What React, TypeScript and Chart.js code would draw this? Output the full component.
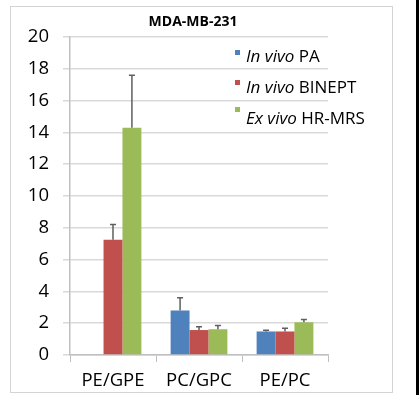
import React, { useEffect, useRef } from "react";
import { Chart, registerables } from "chart.js";

Chart.register(...registerables);

const categories = ["PE/GPE", "PC/GPC", "PE/PC"];
const inVivoPA = [0, 2.8, 1.48];
const inVivoPAErr = [0, 0.8, 0.08];
const inVivoBINEPT = [7.25, 1.57, 1.48];
const inVivoBINEPTErr = [0.95, 0.2, 0.2];
const exVivoHRMRS = [14.3, 1.62, 2.06];
const exVivoHRMRSErr = [3.3, 0.24, 0.17];
const legendItalic = ["In vivo", "In vivo", "Ex vivo"];
const legendNormal = ["PA", "BINEPT", "HR-MRS"];
const yTicks = [0, 2, 4, 6, 8, 10, 12, 14, 16, 18, 20];
const title = "MDA-MB-231";

const FONT = "'Open Sans', 'Noto Sans', sans-serif";

const errorBarPlugin = {
  id: "errorBars",
  afterDatasetsDraw(chart: any) {
    const ctx = chart.ctx;
    const y = chart.scales.y;
    chart.data.datasets.forEach((ds: any, i: number) => {
      const meta = chart.getDatasetMeta(i);
      meta.data.forEach((bar: any, j: number) => {
        const v = ds.data[j];
        const e = ds.errors[j];
        if (!v || !e) return;
        const yTop = y.getPixelForValue(v + e);
        const yBase = y.getPixelForValue(v);
        ctx.save();
        ctx.strokeStyle = "#5f5f5f";
        ctx.lineWidth = 1.5;
        ctx.beginPath();
        ctx.moveTo(bar.x, yBase);
        ctx.lineTo(bar.x, yTop);
        ctx.moveTo(bar.x - 3, yTop);
        ctx.lineTo(bar.x + 3, yTop);
        ctx.stroke();
        ctx.restore();
      });
    });
  },
};

const decorPlugin = {
  id: "decor",
  afterDraw(chart: any) {
    const ctx = chart.ctx;
    ctx.save();
    // title
    ctx.fillStyle = "#000";
    ctx.font = `bold 14px ${FONT}`;
    ctx.textAlign = "center";
    ctx.textBaseline = "middle";
    ctx.fillText(title, 193, 22);
    // legend
    const markerYs = [50, 80, 107];
    const textYs = [57, 88, 119];
    ctx.textAlign = "left";
    chart.data.datasets.forEach((ds: any, i: number) => {
      ctx.fillStyle = ds.backgroundColor;
      ctx.fillRect(235, markerYs[i], 5, 5);
      ctx.fillStyle = "#000";
      ctx.font = `italic 17px ${FONT}`;
      const it = legendItalic[i] + " ";
      ctx.fillText(it, 246, textYs[i]);
      const w = ctx.measureText(it).width;
      ctx.font = `17px ${FONT}`;
      ctx.fillText(legendNormal[i], 246 + w, textYs[i]);
    });
    ctx.restore();
  },
};

export default function App() {
  const ref = useRef<HTMLCanvasElement>(null);
  useEffect(() => {
    if (!ref.current) return;
    const chart = new Chart(ref.current, {
      type: "bar",
      data: {
        labels: categories,
        datasets: [
          { label: "In vivo PA", data: inVivoPA, errors: inVivoPAErr, backgroundColor: "#4f81bd" } as any,
          { label: "In vivo BINEPT", data: inVivoBINEPT, errors: inVivoBINEPTErr, backgroundColor: "#c0504d" } as any,
          { label: "Ex vivo HR-MRS", data: exVivoHRMRS, errors: exVivoHRMRSErr, backgroundColor: "#9bbb59" } as any,
        ],
      },
      options: {
        animation: false,
        responsive: false,
        layout: { padding: { left: 0, top: 37, right: 91, bottom: 0 } },
        plugins: { legend: { display: false }, title: { display: false }, tooltip: { enabled: false } },
        datasets: { bar: { barPercentage: 1, categoryPercentage: 0.66 } },
        scales: {
          x: {
            grid: { drawOnChartArea: false, drawTicks: true, tickLength: 7, color: "#bfbfbf", offset: true },
            border: { color: "#bfbfbf", width: 1.5 },
            ticks: { color: "#000", font: { family: FONT, size: 18.5 }, padding: 8, maxRotation: 0 },
            afterFit: (s: any) => { s.height = 40; },
          },
          y: {
            min: 0,
            max: 20,
            afterBuildTicks: (s: any) => { s.ticks = yTicks.map((v) => ({ value: v })); },
            grid: { color: "#d9d9d9", lineWidth: 1.5, tickLength: 7 },
            border: { color: "#bfbfbf", width: 1.5 },
            ticks: { color: "#000", font: { family: FONT, size: 18.5 }, padding: 14 },
            afterFit: (s: any) => { s.width = 70; },
          },
        },
      },
      plugins: [errorBarPlugin, decorPlugin],
    });
    return () => chart.destroy();
  }, []);
  return (
    <div style={{ position: "absolute", left: 0, top: 0, width: 419, height: 395, background: "#fff" }}>
      <div style={{ position: "absolute", left: 10, top: 6, width: 381, height: 385, border: "1.5px solid #d4d4d4" }} />
      <div style={{ position: "absolute", left: 416, top: 0, width: 3, height: 395, background: "#000" }} />
      <canvas ref={ref} width={419} height={395} style={{ position: "absolute", left: 0, top: 0 }} />
    </div>
  );
}
